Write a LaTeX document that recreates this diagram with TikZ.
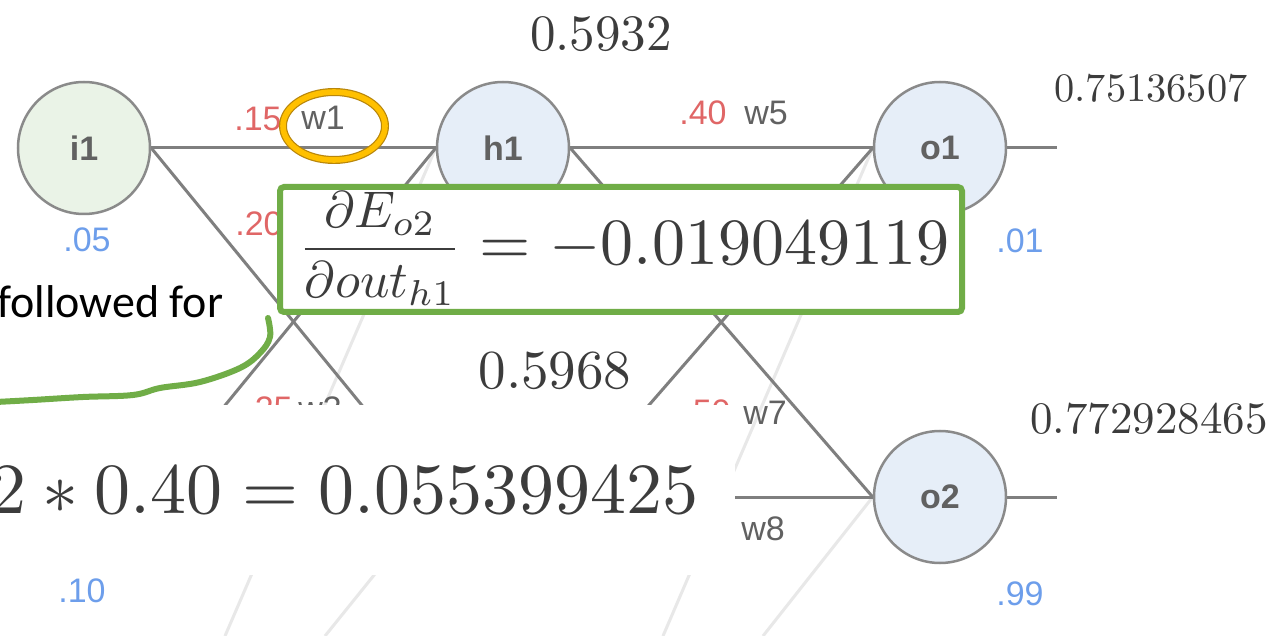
\RequirePackage{fix-cm}
\documentclass[tikz,border=0pt]{standalone}
\usepackage{fontspec}
\usepackage{graphicx}
\newfontfamily\arial{Liberation Sans}
\newfontfamily\calibri{Carlito}
\definecolor{edgegray}{HTML}{7F7F7F}
\definecolor{circgray}{HTML}{8A8A8A}
\definecolor{ifill}{HTML}{EAF3E7}
\definecolor{hfill}{HTML}{E6EEF8}
\definecolor{lblgray}{HTML}{616161}
\definecolor{wred}{HTML}{E06666}
\definecolor{bblue}{HTML}{6D9EEB}
\definecolor{numgray}{HTML}{3C3C3C}
\definecolor{boxgreen}{HTML}{70AD47}
\definecolor{goldin}{HTML}{FFC000}
\definecolor{goldout}{HTML}{B8860B}
\definecolor{faint}{HTML}{E8E8E8}
\pgfdeclarelayer{back}
\pgfdeclarelayer{edges}
\pgfsetlayers{back,edges,main}
\tikzset{
  neuron/.style={circle, draw=circgray, line width=1.25pt, minimum size=66pt, inner sep=0pt,
    font=\arial\bfseries\fontsize{17}{20}\selectfont, text=lblgray},
  edge/.style={draw=edgegray, line width=1.5pt},
  faintline/.style={draw=faint, line width=1.5pt},
  wval/.style={font=\arial\fontsize{17}{20}\selectfont, text=wred, inner sep=0pt, anchor=base},
  wname/.style={font=\arial\fontsize{17}{20}\selectfont, text=lblgray, inner sep=0pt, anchor=base},
  bval/.style={font=\arial\fontsize{17}{20}\selectfont, text=bblue, inner sep=0pt, anchor=base},
  bignum/.style={text=numgray, inner sep=0pt, anchor=base},
}
\begin{document}
\begin{tikzpicture}[x=0.5pt,y=-0.5pt]
\useasboundingbox (0,0) rectangle (1281,636);
\begin{pgfonlayer}{back}
\fill[white] (0,0) rectangle (1281,636);
\end{pgfonlayer}
% hidden positions (covered in the picture)
\coordinate (i2e) at (150,497);
\coordinate (h2w) at (437,497);
\coordinate (h2e) at (569,497);
\coordinate (o1out) at (1057,148);
\coordinate (o2out) at (1057,497);
\coordinate (fa) at (225,636);
\coordinate (fb) at (325,636);
\coordinate (fc) at (663,636);
\coordinate (fd) at (763,636);
% neurons
\node[neuron, fill=ifill] (i1) at (84,148) {i1};
\node[neuron, fill=hfill] (h1) at (503,148) {h1};
\node[neuron, fill=hfill] (o1) at (940,148) {o1};
\node[neuron, fill=hfill] (o2) at (940,497) {o2};
% connectors
\begin{pgfonlayer}{edges}
\draw[faintline] (h1.west) -- (fa);
\draw[faintline] (h2w) -- (fb);
\draw[faintline] (o1.west) -- (fc);
\draw[faintline] (o2.west) -- (fd);
\draw[edge] (i1.east) -- (h1.west);
\draw[edge] (i1.east) -- (h2w);
\draw[edge] (i2e) -- (h1.west);
\draw[edge] (h1.east) -- (o1.west);
\draw[edge] (h1.east) -- (o2.west);
\draw[edge] (h2e) -- (o1.west);
\draw[edge] (h2e) -- (o2.west);
\draw[edge] (o1.east) -- (o1out);
\draw[edge] (o2.east) -- (o2out);
\end{pgfonlayer}
% weights and biases
\node[wval] (w1v) at (258,131) {.15};
\node[wname] (w1n) at (323,130) {w1};
\node[wval] (w2v) at (259,236) {.20};
\node[wval] (w5v) at (703,125) {.40};
\node[wname] (w5n) at (766,125) {w5};
\node[wval] (w3v) at (269,421) {.25};
\node[wname] (w3n) at (320,421) {w3};
\node[wval] (w7v) at (707,423) {.50};
\node[wname] (w7n) at (765,424) {w7};
\node[wname] (w8n) at (763,540) {w8};
\node[bval] (b05) at (87,252) {.05};
\node[bval] (b01) at (1020,253) {.01};
\node[bval] (b10) at (82,602) {.10};
\node[bval] (b99) at (1020,605) {.99};
% outputs of neurons
\node[bignum] (n1) at (601,51) {\scalebox{2.55}{0.5932}};
\node[bignum] (n2) at (555,389) {\scalebox{2.75}{0.5968}};
\node[bignum] (n3) at (1151,102) {\scalebox{2.02}{0.75136507}};
\node[bignum] (n4) at (1149,434) {\scalebox{2.25}{0.772928465}};
% green box with formula
\node[draw=boxgreen, line width=3pt, fill=white, rounded corners=2pt, minimum width=341pt,
  minimum height=62.5pt, inner sep=0pt] (gbox) at (621,249.5) {};
\node[bignum] (f1) at (624,265)
  {\scalebox{3.3}{$\vcenter{\hbox{\scalebox{0.78}{$\displaystyle\frac{\partial E_{o2}}{\partial out_{h1}}$}}} = -0.019049119$}};
% gold mark on w1
\draw[goldout, line width=4pt] (334,126) ellipse [x radius=25.5pt, y radius=17pt];
\draw[goldin, line width=2.8pt] (334,126) ellipse [x radius=25.5pt, y radius=17pt];
% lower white panel with formula
\node[fill=white, inner sep=0pt, minimum width=367.5pt, minimum height=85pt] (bbox) at (367.5,490) {};
\node[bignum, anchor=base east] (f2) at (699,514)
  {\scalebox{3.6}{$2\ast 0.40=0.055399425$}};
% note text and hand-drawn stroke
\node[anchor=base west, inner sep=0pt, font=\calibri\fontsize{23}{28}\selectfont] (note) at (-3,318) {followed for};
\draw[boxgreen, line width=3pt, line cap=round, line join=round]
  plot[smooth, tension=0.6] coordinates {(-4,402) (33,400) (83,397) (133,395) (160,388) (200,382) (240,368) (260,353) (270,337) (268,318)};
\end{tikzpicture}
\end{document}
